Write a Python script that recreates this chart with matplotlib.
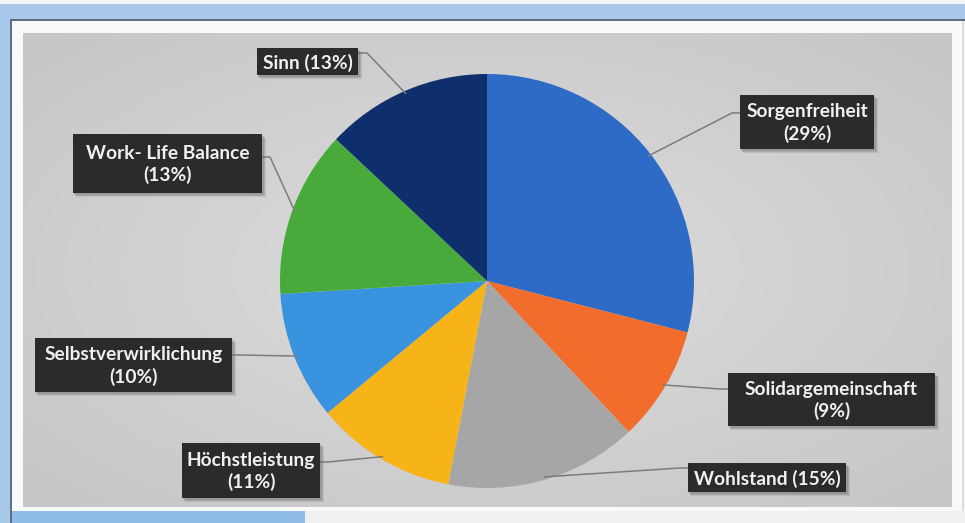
import numpy as np
import matplotlib
matplotlib.use("Agg")
import matplotlib.pyplot as plt
from matplotlib.patches import Rectangle

# ---- data ----
categories = ["Sorgenfreiheit", "Solidargemeinschaft", "Wohlstand", "Höchstleistung",
              "Selbstverwirklichung", "Work- Life Balance", "Sinn"]
values = [29, 9, 15, 11, 10, 13, 13]
label_texts = ["Sorgenfreiheit\n(29%)", "Solidargemeinschaft\n(9%)", "Wohlstand (15%)",
               "Höchstleistung\n(11%)", "Selbstverwirklichung\n(10%)",
               "Work- Life Balance\n(13%)", "Sinn (13%)"]
colors = ["#2e6bc6", "#f26c2b", "#a6a6a6", "#f6b419", "#3a93de", "#47aa3b", "#0f2e6c"]

# ---- layout (pixel coordinates, y measured from top) ----
W, H = 965, 523
# label boxes: (x0, y0, x1, y1)
boxes = [(740, 95, 874, 149), (728, 373, 935, 426), (688, 463, 846, 492),
         (182, 443, 320, 498), (35, 338, 232, 392), (73, 134, 262, 193),
         (257, 48, 358, 75)]
# leader anchor on box and elbow
anchors = [((740, 113), (732, 113)), ((728, 389), (720, 389)), ((688, 468), (680, 468)),
           ((320, 462), (328, 462)), ((232, 355), (240, 355)), ((262, 157), (270, 157)),
           ((358, 53), (367, 53))]

def Y(y):
    return H - y

fig = plt.figure(figsize=(W / 100, H / 100), dpi=100)
fig.patch.set_facecolor("#f2f4f6")
ax = fig.add_axes([0, 0, 1, 1])

# ---- background frame ----
def rect(x0, y0, x1, y1, **kw):
    ax.add_patch(Rectangle((x0, Y(y1)), x1 - x0, y1 - y0, **kw))

rect(0, 4, W, 19, facecolor="#a8c8eb", edgecolor="none", zorder=0)
rect(0, 4, 10, H, facecolor="#a8c8eb", edgecolor="none", zorder=0)
rect(10, 19, W, 21, facecolor="#5f6d7c", edgecolor="none", zorder=0)
rect(10, 19, 12, H, facecolor="#5f6d7c", edgecolor="none", zorder=0)
rect(12, 21, W, 511, facecolor="#f8f9fa", edgecolor="none", zorder=0)
rect(12, 511, 305, H, facecolor="#8fbde8", edgecolor="none", zorder=0)
rect(305, 511, W, H, facecolor="#eef0f2", edgecolor="none", zorder=0)
rect(962, 21, 964, 511, facecolor="#d8dce0", edgecolor="none", zorder=0)

# gray panel with soft radial gradient
px0, py0, px1, py1 = 23, 33, 952, 507
gx = np.linspace(-1, 1, 300)
gy = np.linspace(-1, 1, 160)
GX, GY = np.meshgrid(gx, gy)
Rr = np.clip(np.sqrt(GX ** 2 + GY ** 2) / 1.4, 0, 1)
c_in = np.array([0xdd, 0xdd, 0xdd]) / 255
c_out = np.array([0xc6, 0xc6, 0xc6]) / 255
img = c_in[None, None, :] * (1 - Rr[..., None]) + c_out[None, None, :] * Rr[..., None]
ax.imshow(img, extent=(px0, px1, Y(py1), Y(py0)), zorder=0.5, aspect="auto",
          interpolation="bilinear")

# ---- pie ----
cx, cy, r = 487, 281, 207
wedges, _ = ax.pie(values, colors=colors, startangle=90, counterclock=False,
                   center=(cx, Y(cy)), radius=r, wedgeprops=dict(linewidth=0))
for w in wedges:
    w.set_zorder(2)

# ---- labels ----
for w, txt, (bx0, by0, bx1, by1), (anc, elb) in zip(wedges, label_texts, boxes, anchors):
    mid = np.deg2rad((w.theta1 + w.theta2) / 2)
    ex = cx + (r - 3) * np.cos(mid)
    ey = Y(cy) + (r - 3) * np.sin(mid)
    ax.plot([anc[0], elb[0], ex], [Y(anc[1]), Y(elb[1]), ey], color="#7c7c7c",
            lw=1.1, zorder=3, solid_capstyle="butt")
    # soft shadow
    for k, a in zip((4, 3, 2), (0.18, 0.22, 0.28)):
        rect(bx0 + k - 1, by0 + k, bx1 + k, by1 + k, facecolor="#6e6e6e",
             edgecolor="none", alpha=a, zorder=4)
    rect(bx0, by0, bx1, by1, facecolor="#2b2b2b", edgecolor="none", zorder=5)
    ax.text((bx0 + bx1) / 2, Y((by0 + by1) / 2) - 1, txt, ha="center", va="center",
            color="#f0f0f0", fontsize=13.8, fontweight="bold", family="Lato",
            linespacing=1.28, zorder=6)

ax.set_xlim(0, W)
ax.set_ylim(0, H)
ax.set_aspect("auto")
ax.axis("off")

fig.savefig("out.png", dpi=100, facecolor=fig.get_facecolor())
